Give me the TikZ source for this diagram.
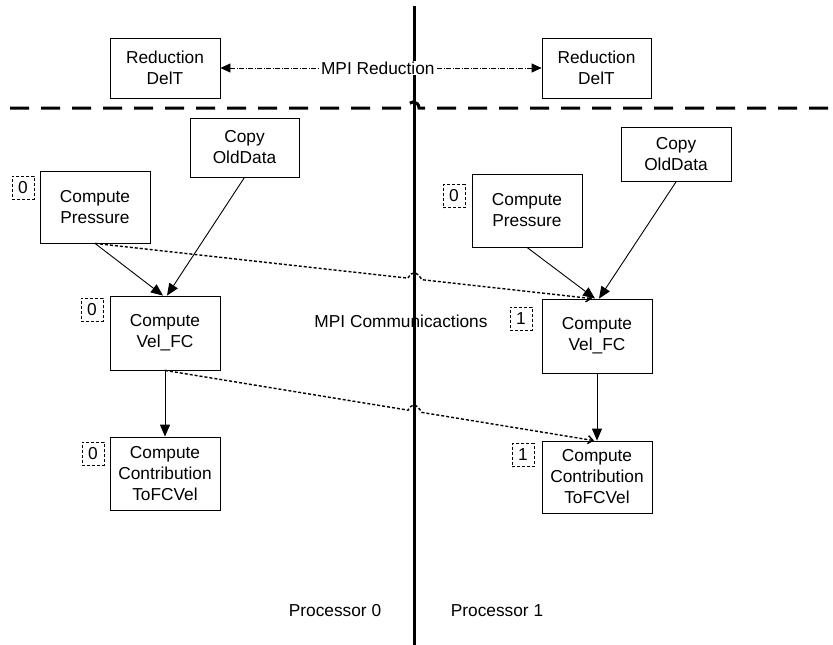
\documentclass[tikz,border=0pt]{standalone}
\usepackage{fontspec}
\setmainfont{Liberation Sans}
\usetikzlibrary{arrows.meta,calc}

\begin{document}
\begin{tikzpicture}[x=1pt,y=-1pt,
  every node/.style={font=\fontsize{17.3}{21}\selectfont},
  task/.style={draw, line width=0.8pt, align=center, inner sep=0pt},
  idtag/.style={draw, densely dashed, line width=0.6pt, inner sep=0pt,
    minimum width=22pt, minimum height=23pt},
  flow/.style={line width=0.9pt, -{Triangle[length=12pt,width=10pt]}},
  commline/.style={line width=1.4pt, dash pattern=on 3pt off 2pt,
    -{Straight Barb[length=5pt,width=8pt]}},
  redline/.style={line width=0.8pt, dash pattern=on 5pt off 1.5pt on 1pt off 1.5pt,
    {Triangle[length=10pt,width=9pt]}-{Triangle[length=10pt,width=9pt]}},
  divider/.style={line width=3pt, dash pattern=on 19pt off 12pt}]

\useasboundingbox (0,0) rectangle (833,645);
\fill[white] (0,0) rectangle (833,645);

% processor boundary
\coordinate (vtop) at (414,6);
\coordinate (vbot) at (414,645);
\draw[line width=3pt] (vtop) -- (vbot);

% reduction step
\node[task, minimum width=110pt, minimum height=60pt] (redL) at (165,68) {Reduction\\DelT};
\node[task, minimum width=109pt, minimum height=60pt] (redR) at (596.5,68) {Reduction\\DelT};
\draw[redline] (redL.east) -- (redR.west);
\node[fill=white, inner sep=1pt] (redlab) at ($(redL.east)!0.49!(redR.west)$) {MPI Reduction};

% time-step divider with a jump over the boundary
\coordinate (hl) at (10,108);
\coordinate (hr) at (833,108);
\coordinate (hj) at (intersection of hl--hr and vtop--vbot);
\draw[divider] (hl) -- ($(hj)+(-7,0)$) .. controls +(0,-8) and +(0,-8) .. ($(hj)+(5,0)$) -- (hr);

% processor 0 tasks
\node[task, minimum width=109pt, minimum height=59pt] (copyL) at (244.5,147.5) {Copy\\OldData};
\node[task, minimum width=110pt, minimum height=72pt] (presL) at (95,207) {Compute\\Pressure};
\node[task, minimum width=110pt, minimum height=74pt] (velL) at (165,333) {Compute\\Vel\_FC};
\node[task, minimum width=110pt, minimum height=73pt] (contL) at (165,473.5) {Compute\\Contribution\\ToFCVel};

% processor 1 tasks
\node[task, minimum width=110pt, minimum height=54pt] (copyR) at (676,154.5) {Copy\\OldData};
\node[task, minimum width=110pt, minimum height=73pt] (presR) at (527,210.5) {Compute\\Pressure};
\node[task, minimum width=110pt, minimum height=74pt] (velR) at (597,336) {Compute\\Vel\_FC};
\node[task, minimum width=110pt, minimum height=72pt] (contR) at (597,477) {Compute\\Contribution\\ToFCVel};

% processor tags
\node[idtag] (tL1) at (23,187.5) {0};
\node[idtag] (tL2) at (92,309.5) {0};
\node[idtag] (tL3) at (93,453.5) {0};
\node[idtag] (tR1) at (454,196) {0};
\node[idtag] (tR2) at (521,318.5) {1};
\node[idtag] (tR3) at (523,455) {1};

% local dependencies
\draw[flow] (presL.south) -- ([xshift=-2pt]velL.north);
\draw[flow] (copyL.south) -- ([xshift=2pt]velL.north);
\draw[flow] (velL.south) -- (contL.north);
\draw[flow] (presR.south) -- ([xshift=-2pt]velR.north);
\draw[flow] (copyR.south) -- ([xshift=2pt]velR.north);
\draw[flow] (velR.south) -- (contR.north);

% MPI communications across the boundary
\coordinate (d1s) at (presL.south);
\coordinate (d1e) at ([xshift=-5pt]velR.north);
\coordinate (x1) at (intersection of d1s--d1e and vtop--vbot);
\draw[commline] (d1s) -- ($(x1)!6pt!(d1s)$)
  .. controls ($(x1)+(-2,-8)$) and ($(x1)+(2,-8)$) .. ($(x1)!8pt!(d1e)$) -- (d1e);

\coordinate (d2s) at (velL.south);
\coordinate (d2e) at ([xshift=-3pt]contR.north);
\coordinate (x2) at (intersection of d2s--d2e and vtop--vbot);
\draw[commline] (d2s) -- ($(x2)!6pt!(d2s)$)
  .. controls ($(x2)+(-2,-8)$) and ($(x2)+(2,-8)$) .. ($(x2)!8pt!(d2e)$) -- (d2e);

\node (comm) at (401,321) {MPI Communicactions};
\node (proc0) at (335,611) {Processor 0};
\node (proc1) at (497,611) {Processor 1};
\end{tikzpicture}
\end{document}
